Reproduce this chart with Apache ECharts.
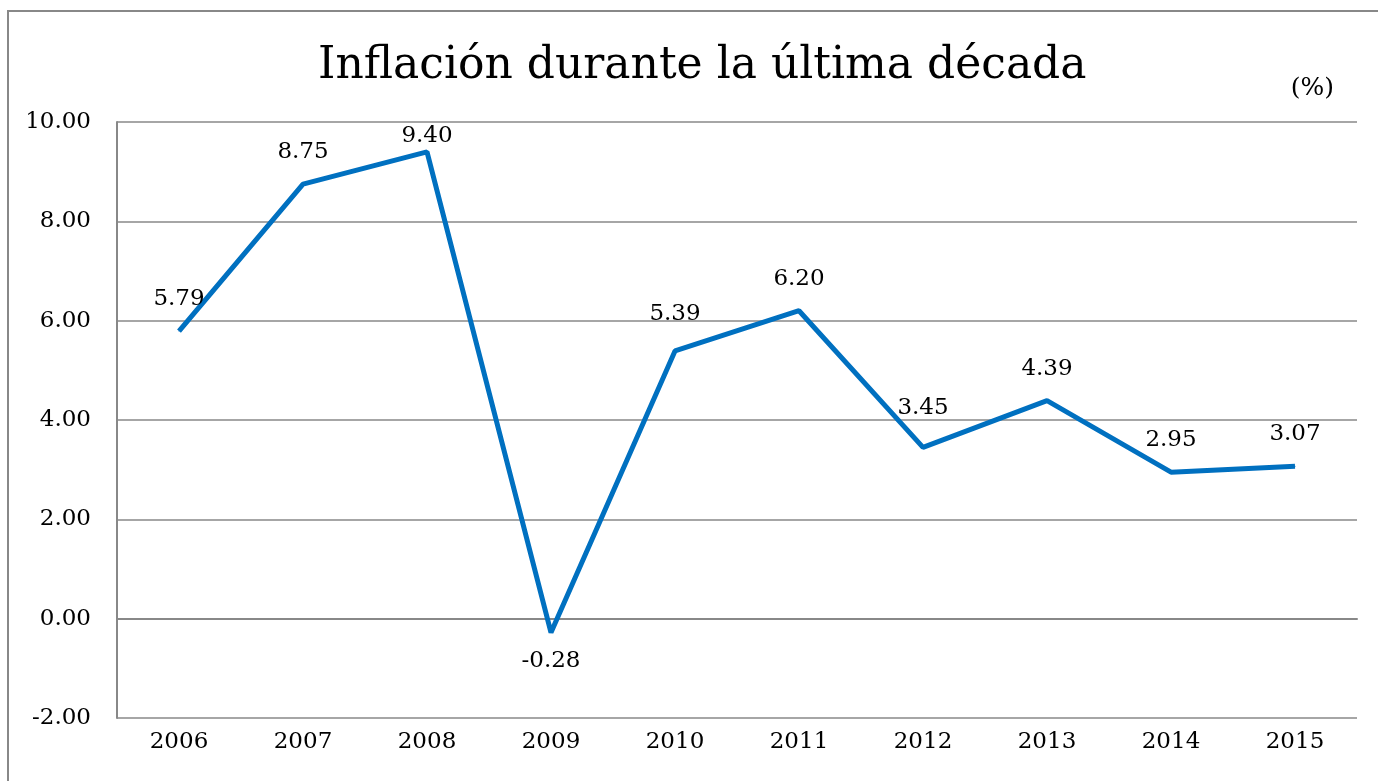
<!DOCTYPE html>
<html>
<head>
<meta charset="utf-8">
<script src="https://cdn.jsdelivr.net/npm/echarts@6/dist/echarts.min.js"></script>
<style>
  html, body { margin: 0; padding: 0; background: #fff; }
  #main { width: 1378px; height: 781px; }
</style>
</head>
<body>
<div id="main"></div>
<script>
var years = ['2006', '2007', '2008', '2009', '2010', '2011', '2012', '2013', '2014', '2015'];
var inflation = [5.79, 8.75, 9.40, -0.28, 5.39, 6.20, 3.45, 4.39, 2.95, 3.07];

var font = 'DejaVu Serif';

// separación de cada etiqueta respecto a su punto (como en el original)
var labelGap = [20, 20, 4, 16, 25, 20, 27, 20, 20, 20];

var seriesData = inflation.map(function (v, i) {
    return {
        value: v,
        label: { position: v < 0 ? 'bottom' : 'top', distance: labelGap[i] }
    };
});

var myChart = echarts.init(document.getElementById('main'));

var option = {
    backgroundColor: '#fff',
    animation: false,
    title: {
        text: 'Inflación durante la última década',
        left: 313,
        top: 40,
        textStyle: {
            fontFamily: font,
            fontWeight: 'normal',
            fontSize: 44,
            color: '#000'
        }
    },
    graphic: [
        {
            type: 'rect',
            shape: { x: 8, y: 11, width: 1400, height: 800 },
            style: { fill: 'none', stroke: '#888', lineWidth: 2 },
            silent: true
        },
        {
            type: 'text',
            right: 44,
            top: 76,
            style: { text: '(%)', fontFamily: font, fontSize: 25, fill: '#000' }
        }
    ],
    grid: {
        left: 117,
        right: 21,
        top: 122,
        bottom: 63
    },
    xAxis: {
        type: 'category',
        data: years,
        boundaryGap: true,
        axisLine: { lineStyle: { color: '#888', width: 2 } },
        axisTick: { show: false },
        axisLabel: {
            margin: 13,
            fontFamily: font,
            fontSize: 23,
            color: '#000'
        }
    },
    yAxis: {
        type: 'value',
        min: -2,
        max: 10,
        interval: 2,
        axisLine: { show: true, lineStyle: { color: '#888', width: 2 } },
        axisTick: { show: false },
        splitLine: { lineStyle: { color: '#888', width: 1.5 } },
        axisLabel: {
            margin: 26,
            fontFamily: font,
            fontSize: 23,
            color: '#000',
            formatter: function (v) { return v.toFixed(2); }
        }
    },
    series: [
        {
            type: 'line',
            data: seriesData,
            symbol: 'circle',
            symbolSize: 1,
            itemStyle: { color: '#0070C0' },
            lineStyle: { color: '#0070C0', width: 5 },
            label: {
                show: true,
                fontFamily: font,
                fontSize: 23,
                color: '#000',
                formatter: function (p) { return p.value.toFixed(2); }
            }
        }
    ]
};

myChart.setOption(option);
</script>
</body>
</html>
